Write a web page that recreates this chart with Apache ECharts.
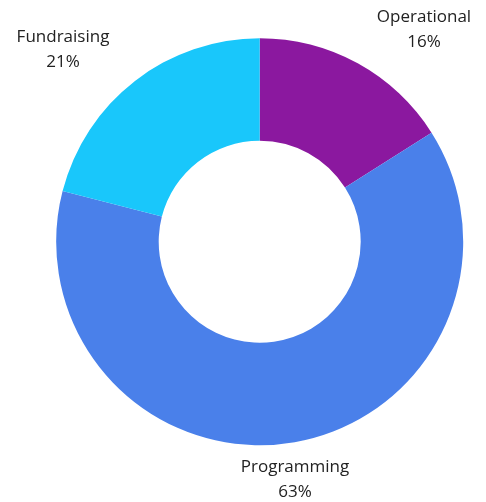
<!DOCTYPE html>
<html>
<head>
<meta charset="utf-8">
<script src="https://cdn.jsdelivr.net/npm/echarts@6/dist/echarts.min.js"></script>
<style>
  html, body { margin: 0; padding: 0; background: #fff; }
  #main { width: 486px; height: 502px; }
</style>
</head>
<body>
<div id="main"></div>
<script>
const categories = ['Operational', 'Programming', 'Fundraising'];
const shares = [16, 63, 21];
const colors = ['#8b189f', '#4a80ea', '#19c7fb'];

// label anchor points (text centre), one per slice
const labelSpots = [[424, 30], [295, 480], [63, 50]];

const chart = echarts.init(document.getElementById('main'));
chart.setOption({
  animation: false,
  series: [{
    type: 'pie',
    center: [259.7, 241.7],
    radius: [101, 203.5],
    startAngle: 90,
    clockwise: true,
    itemStyle: { borderWidth: 0, borderColor: 'transparent' },
    data: categories.map((name, i) => ({
      name,
      value: shares[i],
      itemStyle: { color: colors[i] },
    })),
    label: {
      show: true,
      position: 'outside',
      formatter: (p) => `${p.name}\n${p.value}%`,
      fontFamily: 'Open Sans',
      fontSize: 17,
      lineHeight: 25,
      color: '#222',
      align: 'center',
      overflow: 'none',
      width: 200,
    },
    labelLine: { show: false },
    labelLayout: (params) => ({
      x: labelSpots[params.dataIndex][0],
      y: labelSpots[params.dataIndex][1],
      align: 'center',
      verticalAlign: 'middle',
      width: 200,
    }),
    emphasis: { disabled: true },
  }],
});
</script>
</body>
</html>
